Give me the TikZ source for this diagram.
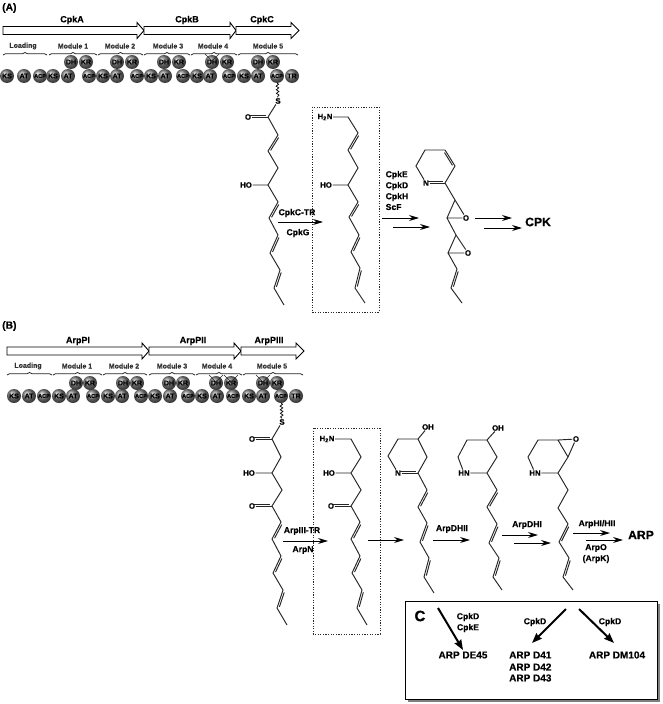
\documentclass[tikz,border=0pt]{standalone}
\usepackage{fontspec}
\setmainfont{Liberation Sans}[BoldFeatures={FakeBold=0.35}]
\usetikzlibrary{arrows.meta,calc,decorations.pathmorphing,decorations.pathreplacing}

% single bond
\tikzset{
  bond/.style={line width=0.95pt,black!85},
  atom/.style={font=\fontsize{7.8}{9}\selectfont\bfseries,inner sep=0.7pt,outer sep=0pt},
  gene/.style={draw=black,line width=0.9pt,fill=white,line join=miter},
  genelabel/.style={font=\fontsize{9}{10}\selectfont\bfseries,inner sep=0pt},
  modlabel/.style={font=\fontsize{7}{9}\selectfont\bfseries,inner sep=0pt,text=black!80},
  modbrace/.style={decorate,decoration={brace,amplitude=2.5pt},line width=0.7pt,black!85},
  pksdomain/.style={circle,inner sep=0pt,minimum size=14pt,ball color=black!50,
    font=\fontsize{7}{7}\selectfont\bfseries,text=black},
  acpdomain/.style={pksdomain,font=\fontsize{5.6}{6}\selectfont\bfseries},
  knockout/.style={line width=0.5pt,black!85},
  rxn/.style={line width=1pt,-{Stealth[length=10pt,width=6pt]}},
  enz/.style={font=\fontsize{8.6}{10}\selectfont\bfseries,inner sep=0pt},
  enzleft/.style={enz,anchor=west},
  product/.style={font=\fontsize{12.2}{14}\selectfont\bfseries,inner sep=0pt},
  paneltag/.style={font=\fontsize{10.3}{12}\selectfont\bfseries,inner sep=0pt,anchor=west},
  dotbox/.style={line width=0.9pt,dash pattern=on 1.2pt off 1.4pt,black!85},
  variant/.style={font=\fontsize{10}{12}\selectfont\bfseries,inner sep=0pt},
  variantleft/.style={variant,anchor=west},
  subrxn/.style={line width=2pt,-{Stealth[length=10pt,width=7.5pt,inset=1pt]}},
  thio/.style={decorate,decoration={snake,amplitude=1.3pt,segment length=3.6pt},line width=0.7pt},
}

% second stroke of a double bond: start, end, signed offset
\newcommand{\secondstroke}[3]{%
  \coordinate (dbu) at ($(#1)!#3!90:(#2)$);
  \coordinate (dbv) at ($(#2)!#3!-90:(#1)$);
  \draw[bond] ($(dbu)!0.1!(dbv)$) -- ($(dbu)!0.9!(dbv)$);
}
% full double bond
\newcommand{\dblbond}[3]{%
  \draw[bond] (#1) -- (#2);
  \secondstroke{#1}{#2}{#3}%
}
% straight reaction arrow between two named ends
\newcommand{\rxnarrow}[3]{%
  \coordinate (#1s) at (#2);
  \coordinate (#1e) at (#3);
  \draw[rxn] (#1s) -- (#1e);
}
% open block arrow for one gene: x0, head start, tip, y-centre
\newcommand{\genearrow}[4]{%
  \draw[gene] (#1,#4-4) -- (#2,#4-4) -- (#2,#4-8) -- (#3,#4) -- (#2,#4+8) -- (#2,#4+4) -- (#1,#4+4) -- cycle;
}
% small cross over a domain
\newcommand{\crossout}[2]{%
  \draw[knockout] (#1-7,#2-8) -- (#1+2,#2+1);
  \draw[knockout] (#1+7,#2-8) -- (#1-2,#2+1);
}

\begin{document}
\begin{tikzpicture}[x=1pt,y=-1pt]
\useasboundingbox (0,0) rectangle (662,704);
\fill[white] (0,0) rectangle (662,704);

% ---------- panel A: assembly line ----------
\node[paneltag] (tagA) at (2,8) {(A)};
\genearrow{3}{137}{144}{30.5}
\genearrow{144}{230}{236}{30.5}
\genearrow{236}{291}{299}{30.5}
\node[genelabel] (cpkA) at (72,20) {CpkA};
\node[genelabel] (cpkB) at (187,20) {CpkB};
\node[genelabel] (cpkC) at (262,20) {CpkC};

\foreach \n/\x/\t in {aL/23/Loading,aM1/73/Module 1,aM2/120/Module 2,aM3/168/Module 3,aM4/213/Module 4,aM5/268/Module 5}
  \node[modlabel] (\n) at (\x,46) {\t};
\foreach \a/\b in {3/47,49/97,98/143,144/190,191/237,238/298}
  \draw[modbrace] (\a,55) -- (\b,55);

\foreach \n/\x/\t in {a1/7/KS,a2/24/AT,a4/53/KS,a5/68/AT,a7/103/KS,a8/117/AT,a10/151/KS,a11/165/AT,a13/197/KS,a14/210/AT,a16/244/KS,a17/258/AT,a19/292/TR}
  \node[pksdomain] (\n) at (\x,76) {\t};
\foreach \n/\x in {a3/40,a6/89,a9/137,a12/183,a15/229,a18/277}
  \node[acpdomain] (\n) at (\x,76) {ACP};
\foreach \n/\x/\t in {u1/71/DH,u2/86/KR,u3/117/DH,u4/132/KR,u5/164/DH,u6/179/KR,u7/212/DH,u8/227/KR,u9/258/DH,u10/273/KR}
  \node[pksdomain] (\n) at (\x,62) {\t};
\crossout{212}{62}

% ---------- panel A: polyketide on the carrier protein ----------
\node[atom] (aS) at (278,101) {S};
\draw[thio] (a18) -- (aS);
\node[atom] (aO) at (248,117) {O};
\node[atom] (aHO) at (246,185) {HO};
\draw[bond] (aS) -- (268,117);
\dblbond{aO}{268,117}{1.3pt}
\draw[bond] (268,117) -- (278,135) (268,151) -- (278,168) -- (268,185) -- (278,202)
  (269,218) -- (278,235) (270,253) -- (280,270) (274,288) -- (284,305) (aHO) -- (268,185);
\dblbond{278,135}{268,151}{1.9pt}
\dblbond{278,202}{269,218}{1.9pt}
\dblbond{278,235}{270,253}{1.9pt}
\dblbond{280,270}{274,288}{1.9pt}

\draw[dotbox] (312,107) rectangle (379,312);

\node[atom] (bN) at (325,117) {H\textsubscript{2}N};
\node[atom] (bHO) at (326,185) {HO};
\draw[bond] (bN) -- (348,117) -- (358,133) (348,150) -- (358,168) -- (348,185) -- (358,202)
  (349,217) -- (359,235) (351,252) -- (360,268) (355,288) -- (365,303) (bHO) -- (348,185);
\dblbond{358,133}{348,150}{1.9pt}
\dblbond{358,202}{349,217}{1.9pt}
\dblbond{359,235}{351,252}{1.9pt}
\dblbond{360,268}{355,288}{1.9pt}

\rxnarrow{r1}{278,222}{323,222}
\node[enz] (cpkTR) at (297,213) {CpkC-TR};
\node[enz] (cpkG) at (298,233) {CpkG};

\node[enzleft] (eE) at (385.5,175) {CpkE};
\node[enzleft] (eD) at (385.5,186) {CpkD};
\node[enzleft] (eH) at (385.5,197) {CpkH};
\node[enzleft] (eS) at (385.5,207) {ScF};
\rxnarrow{r2}{382,218}{419,218}
\rxnarrow{r3}{393,227}{430,227}

% pyridine bis-epoxide
\node[atom] (cN) at (426,183) {N};
\node[atom] (cO1) at (466,218) {O};
\node[atom] (cO2) at (468,253) {O};
\dblbond{cN}{445,183}{1.6pt}
\draw[bond] (cN) -- (416,166) -- (425,150) -- (445,150) (455,166) -- (445,183) -- (455,200)
  -- (447,218) -- (456,235) -- (448,253) -- (457,269) (451,288) -- (462,303)
  (455,200) -- (cO1) -- (447,218) (456,235) -- (cO2) -- (448,253);
\dblbond{445,150}{455,166}{-1.8pt}
\dblbond{457,269}{451,288}{1.9pt}

\rxnarrow{r4}{475,218}{512,218}
\rxnarrow{r5}{484,228}{522,228}
\node[product,anchor=west] (cpk) at (525,222) {CPK};

% ---------- panel B: assembly line ----------
\node[paneltag] (tagB) at (2,326) {(B)};
\genearrow{7}{142}{149}{351}
\genearrow{149}{234}{241}{351}
\genearrow{241}{296}{304}{351}
\node[genelabel] (arpA) at (78,341) {ArpPI};
\node[genelabel] (arpB) at (193,341) {ArpPII};
\node[genelabel] (arpC) at (269,341) {ArpPIII};

\foreach \n/\x/\t in {bL/28/Loading,bM1/77/Module 1,bM2/124/Module 2,bM3/172/Module 3,bM4/217/Module 4,bM5/272/Module 5}
  \node[modlabel] (\n) at (\x,366) {\t};
\foreach \a/\b in {7/52,53/102,103/147,149/195,196/242,243/303}
  \draw[modbrace] (\a,375) -- (\b,375);

\foreach \n/\x/\t in {c1/14/KS,c2/29/AT,c4/59/KS,c5/73/AT,c7/108/KS,c8/122/AT,c10/155/KS,c11/170/AT,c13/202/KS,c14/217/AT,c16/249/KS,c17/263/AT,c19/296/TR}
  \node[pksdomain] (\n) at (\x,396) {\t};
\foreach \n/\x in {c3/44,c6/93,c9/141,c12/188,c15/233,c18/281}
  \node[acpdomain] (\n) at (\x,396) {ACP};
\foreach \n/\x/\t in {v1/76/DH,v2/90/KR,v3/123/DH,v4/137/KR,v5/169/DH,v6/183/KR,v7/216/DH,v8/231/KR,v9/263/DH,v10/277/KR}
  \node[pksdomain] (\n) at (\x,383) {\t};
\crossout{216}{383}
\crossout{231}{383}
\crossout{263}{383}

% ---------- panel B: polyketide on the carrier protein ----------
\node[atom] (dS) at (282,422) {S};
\draw[thio] (c18) -- (dS);
\node[atom] (dO1) at (252,439) {O};
\node[atom] (dHO) at (249,473) {HO};
\node[atom] (dO2) at (252,506) {O};
\dblbond{dO1}{272,439}{1.3pt}
\dblbond{dO2}{272,506}{1.3pt}
\draw[bond] (dS) -- (272,439) -- (281,457) -- (272,473) -- (282,490) -- (272,506) -- (281,522)
  (272,539) -- (281,556) (273,573) -- (283,590) (277,608) -- (287,625) (dHO) -- (272,473);
\dblbond{281,522}{272,539}{1.9pt}
\dblbond{281,556}{273,573}{1.9pt}
\dblbond{283,590}{277,608}{1.9pt}

\draw[dotbox] (313,428) rectangle (380,634);

\node[atom] (eN) at (327,439) {H\textsubscript{2}N};
\node[atom] (eHO) at (329,473) {HO};
\node[atom] (eO) at (331,506) {O};
\dblbond{eO}{351,506}{1.3pt}
\draw[bond] (eN) -- (351,439) -- (361,457) -- (351,473) -- (361,490) -- (351,506) -- (360,522)
  (351,539) -- (360,556) (352,573) -- (362,590) (357,608) -- (367,625) (eHO) -- (351,473);
\dblbond{360,522}{351,539}{1.9pt}
\dblbond{360,556}{352,573}{1.9pt}
\dblbond{362,590}{357,608}{1.9pt}

\rxnarrow{s1}{283,541}{328,541}
\node[enz] (arpTR) at (302,531) {ArpIII-TR};
\node[enz] (arpN) at (303,550) {ArpN};
\rxnarrow{s2}{368,540}{404,540}

% cyclic imine
\node[atom] (fN) at (398,473) {N};
\node[atom] (fOH) at (428,427) {OH};
\dblbond{fN}{418,473}{1.6pt}
\draw[bond] (fN) -- (388,456) -- (398,439) -- (418,439) -- (427,457) -- (418,473) -- (427,490)
  (418,507) -- (427,523) (420,542) -- (429,558) (424,577) -- (434,593) (418,439) -- (fOH);
\dblbond{427,490}{418,507}{1.9pt}
\dblbond{427,523}{420,542}{1.9pt}
\dblbond{429,558}{424,577}{1.9pt}

\rxnarrow{s3}{433,540}{470,540}
\node[enz] (dh2) at (452,529) {ArpDHII};

% piperidinol
\node[atom] (gN) at (464,473) {HN};
\node[atom] (gOH) at (498,428) {OH};
\draw[bond] (gN) -- (487,473) -- (497,457) -- (487,440) -- (467,440) -- (458,457) -- (gN)
  (487,473) -- (497,490) (487,507) -- (497,524) (489,543) -- (499,558) (493,577) -- (502,590)
  (487,440) -- (gOH);
\dblbond{497,490}{487,507}{1.9pt}
\dblbond{497,524}{489,543}{1.9pt}
\dblbond{499,558}{493,577}{1.9pt}

\rxnarrow{s4}{502,535}{538,535}
\rxnarrow{s5}{514,543}{551,543}
\node[enz] (dh1) at (527,525) {ArpDHI};

% epoxy piperidine
\node[atom] (hN) at (535,473) {HN};
\node[atom] (hO) at (576,439) {O};
\draw[bond] (hN) -- (558,473) -- (568,457) -- (558,440) -- (538,440) -- (528,457) -- (hN)
  (558,440) -- (hO) -- (568,457)
  (558,473) -- (568,490) -- (558,508) -- (568,524) (559,542) -- (569,558) (563,577) -- (573,590);
\dblbond{568,524}{559,542}{1.9pt}
\dblbond{569,558}{563,577}{1.9pt}

\rxnarrow{s6}{573,533}{610,533}
\rxnarrow{s7}{586,540}{623,540}
\node[enz] (hii) at (597,524) {ArpHI/HII};
\node[enz] (arpO) at (596,548) {ArpO};
\node[enz] (arpK) at (596,559) {(ArpK)};
\node[product] (arp) at (641,535) {ARP};

% ---------- inset C ----------
\fill[black!50] (407.5,603.5) rectangle (659.5,701.5);
\draw[line width=1pt,fill=white] (405,601) rectangle (657,699);
\node[font=\fontsize{15}{18}\selectfont\bfseries,inner sep=0pt] (panelC) at (420,616) {C};
\node[enz] (k1) at (468,617) {CpkD};
\node[enz] (k2) at (468,628) {CpkE};
\node[enz] (k3) at (535,622) {CpkD};
\node[enz] (k4) at (610,622) {CpkD};
\node[variant] (de45) at (463,655) {ARP DE45};
\node[variantleft] (d41) at (509,655) {ARP D41};
\node[variantleft] (d42) at (509,667) {ARP D42};
\node[variantleft] (d43) at (509,678) {ARP D43};
\node[variant] (dm104) at (617,655) {ARP DM104};
\coordinate (t1) at (438,608);
\coordinate (t2) at (566,609);
\coordinate (t3) at (579,609);
\draw[subrxn] (t1) -- (463,650);
\draw[subrxn] (t2) -- (532,643);
\draw[subrxn] (t3) -- (614,643);
\end{tikzpicture}
\end{document}
